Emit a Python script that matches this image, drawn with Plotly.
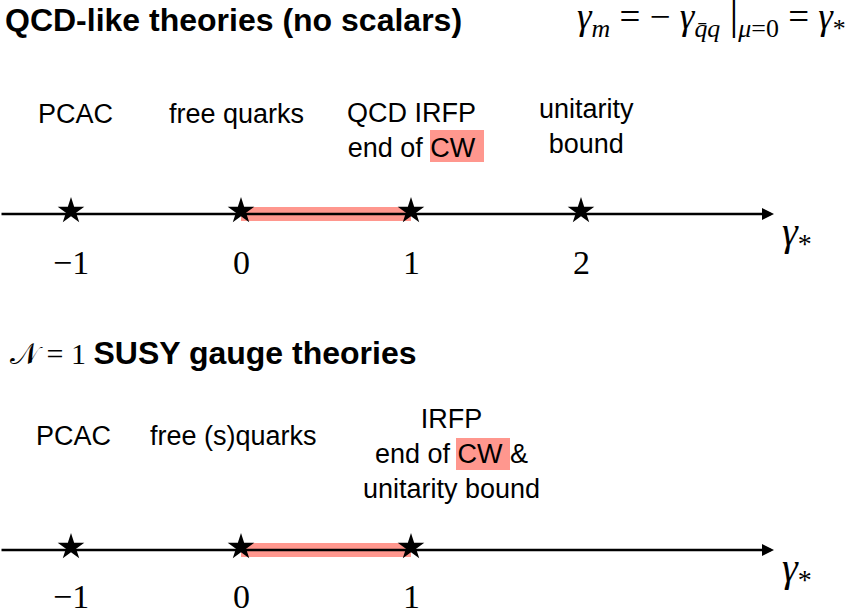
import plotly.graph_objects as go

# ---------------- data ----------------
star_values_top = [-1, 0, 1, 2]
star_values_bottom = [-1, 0, 1]
tick_labels_top = ["−1", "0", "1", "2"]
tick_labels_bottom = ["−1", "0", "1"]
cw_window = [0, 1]          # conformal window (gamma_* range)
top_labels = ["PCAC", "free quarks", "QCD IRFP<br>end of CW", "unitarity<br>bound"]
bottom_labels = ["PCAC", "free (s)quarks", "IRFP<br>end of CW &amp;<br>unitarity bound"]
title_top = "<b>QCD-like theories (no scalars)</b>"
title_bottom_math = "𝒩 = 1"
title_bottom_text = "<b>SUSY gauge theories</b>"
formula = ("<i>γ</i><sub><i>m</i></sub> = − <i>γ</i><sub><i>q̄q</i></sub> "
           "<span style='font-size:44px'>|</span>"
           "<sub><i>μ</i>=0</sub> = <i>γ</i><sub>*</sub>")

# ---------------- layout helpers ----------------
W, H = 846, 615
X0, SCALE = 241, 170          # pixel position of gamma=0 and pixels per unit


def gx(px):
    return (px - X0) / SCALE


ROW_Y = [214, 550]
PINK = "#FF978E"
SANS = "Liberation Sans, Arial, Helvetica, sans-serif"
SERIF = "Liberation Serif, Times New Roman, serif"

fig = go.Figure()
shapes = []
ann = []

rows = [
    (star_values_top, tick_labels_top, ROW_Y[0], 48),
    (star_values_bottom, tick_labels_bottom, ROW_Y[1], 46),
]

for vals, ticks, ry, toff in rows:
    # conformal window band
    shapes.append(dict(type="rect", xref="x", yref="y", x0=cw_window[0], x1=cw_window[1],
                       y0=ry - 7, y1=ry + 7, fillcolor=PINK, line=dict(width=0), layer="below"))
    # axis arrow
    ann.append(dict(x=gx(774), y=ry, ax=gx(0), ay=ry, xref="x", yref="y", axref="x", ayref="y",
                    text="", showarrow=True, arrowhead=2, arrowsize=1, arrowwidth=2.4,
                    arrowcolor="black", standoff=0))
    # stars
    fig.add_trace(go.Scatter(x=vals, y=[ry - 3] * len(vals), mode="markers",
                             marker=dict(symbol="star", size=20, color="black", line=dict(width=0)),
                             hoverinfo="skip", showlegend=False))
    # tick labels
    for v, t in zip(vals, ticks):
        ann.append(dict(x=v, y=ry + toff, xref="x", yref="y", text=t, showarrow=False,
                        xanchor="center", yanchor="middle",
                        font=dict(family=SERIF, size=34, color="black")))
    # gamma_* axis title
    ann.append(dict(x=gx(780), y=ry + 20, xref="x", yref="y",
                    text="<i>γ</i><sub>*</sub>", showarrow=False, xanchor="left", yanchor="middle",
                    font=dict(family=SERIF, size=40, color="black")))

# CW highlight boxes
shapes.append(dict(type="rect", xref="x", yref="y", x0=gx(430), x1=gx(484), y0=130, y1=162,
                   fillcolor=PINK, line=dict(width=0), layer="below"))
shapes.append(dict(type="rect", xref="x", yref="y", x0=gx(456), x1=gx(510), y0=438, y1=470,
                   fillcolor=PINK, line=dict(width=0), layer="below"))

lab_font = dict(family=SANS, size=27, color="black")
# top labels
top_pos = [(75, 113.5), (236, 113.5), (411, 130.5), (586, 126.5)]
for t, (px, py) in zip(top_labels, top_pos):
    ann.append(dict(x=gx(px), y=py, xref="x", yref="y", text=t, showarrow=False,
                    xanchor="center", yanchor="middle", font=lab_font))
# bottom labels
bot_pos = [(73, 436), (233, 436), (451, 453.5)]
for t, (px, py) in zip(bottom_labels, bot_pos):
    ann.append(dict(x=gx(px), y=py, xref="x", yref="y", text=t, showarrow=False,
                    xanchor="center", yanchor="middle", font=lab_font))

# titles
ann.append(dict(x=gx(3), y=20, xref="x", yref="y", text=title_top, showarrow=False,
                xanchor="left", yanchor="middle", font=dict(family=SANS, size=32, color="black")))
ann.append(dict(x=gx(8), y=353, xref="x", yref="y",
                text=f"<span style='font-family:{SERIF}'>{title_bottom_math}</span> "
                     f"<span style='font-family:{SANS}; font-size:32px'>{title_bottom_text}</span>",
                showarrow=False, xanchor="left", yanchor="middle",
                font=dict(family=SERIF, size=30, color="black")))
ann.append(dict(x=gx(575), y=16, xref="x", yref="y", text=formula, showarrow=False,
                xanchor="left", yanchor="middle", font=dict(family=SERIF, size=37, color="black")))

fig.update_layout(
    width=W, height=H, margin=dict(l=0, r=0, t=0, b=0),
    paper_bgcolor="white", plot_bgcolor="white",
    xaxis=dict(range=[gx(0), gx(W)], visible=False, fixedrange=True),
    yaxis=dict(range=[H, 0], visible=False, fixedrange=True),
    shapes=shapes, annotations=ann, showlegend=False,
)

fig.write_html("out.html", post_script="document.body.style.margin='0';",
               config={"displayModeBar": False})
